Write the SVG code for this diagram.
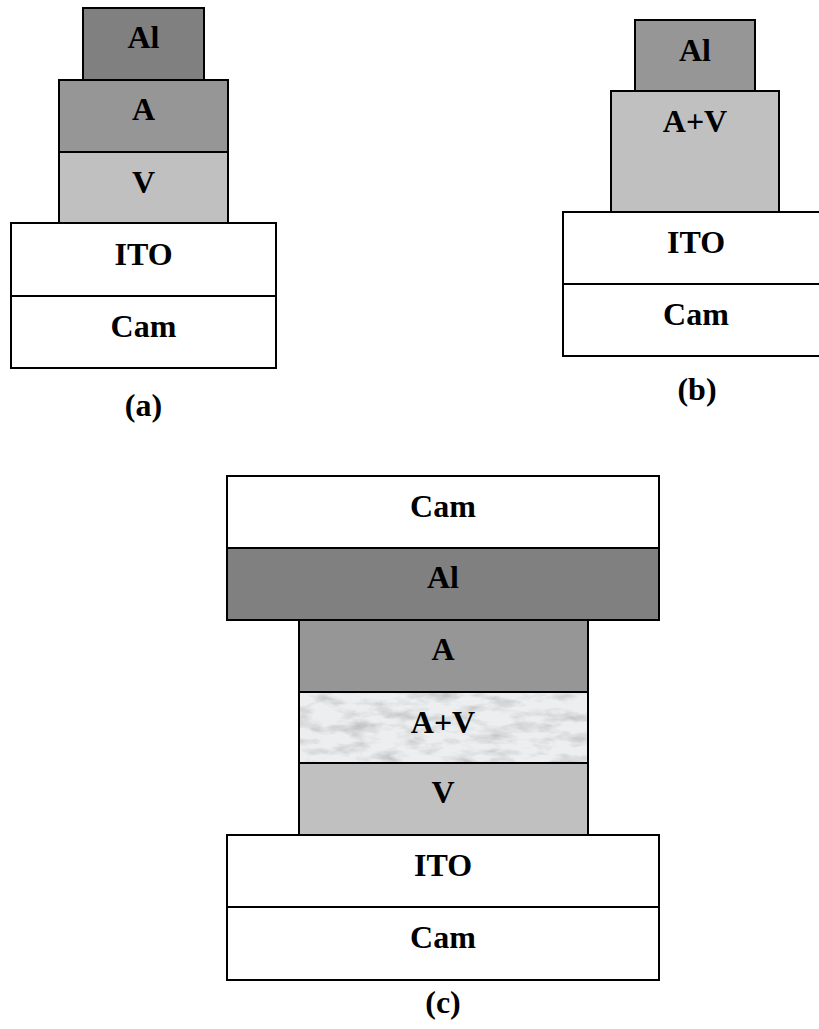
<svg xmlns="http://www.w3.org/2000/svg" width="819" height="1029" viewBox="0 0 819 1029">
  <style>
    .layer rect { stroke: #000; stroke-width: 2; }
    .t { font-family: "Liberation Serif", "Times New Roman", serif; font-weight: bold; font-size: 32px; text-anchor: middle; fill: #000; }
    .white { fill: #fff; }
    .dark { fill: #808080; }
    .mid { fill: #969696; }
    .light { fill: #c0c0c0; }
  </style>
  <defs>
    <!-- grey marble texture for the mixed A+V layer -->
    <filter id="marble" x="0" y="0" width="1" height="1" filterUnits="objectBoundingBox">
      <feTurbulence type="fractalNoise" baseFrequency="0.035 0.09" numOctaves="4" seed="7" result="noise"/>
      <feColorMatrix in="noise" type="matrix" values="0 0 0 0 0  0 0 0 0 0  0 0 0 0 0  -1.1 0 0 0 0.62" result="veins"/>
      <feFlood flood-color="#7d8080" result="vc"/>
      <feComposite in="vc" in2="veins" operator="in" result="vein"/>
      <feFlood flood-color="#eceef0" result="base"/>
      <feMerge>
        <feMergeNode in="base"/>
        <feMergeNode in="vein"/>
      </feMerge>
    </filter>
  </defs>

  <!-- stack (a) -->
  <g id="stack-a">
    <g id="a-al" class="layer"><rect class="dark" x="83" y="8" width="121" height="72"/><text class="t" x="143.5" y="48">Al</text></g>
    <g id="a-a" class="layer"><rect class="mid" x="59" y="80" width="169" height="72"/><text class="t" x="143.5" y="120">A</text></g>
    <g id="a-v" class="layer"><rect class="light" x="59" y="152" width="169" height="71"/><text class="t" x="143.5" y="193">V</text></g>
    <g id="a-ito" class="layer"><rect class="white" x="11" y="223" width="265" height="73"/><text class="t" x="143.5" y="265">ITO</text></g>
    <g id="a-cam" class="layer"><rect class="white" x="11" y="296" width="265" height="72"/><text class="t" x="143.5" y="337">Cam</text></g>
    <text id="label-a" class="t" x="143.5" y="416">(a)</text>
  </g>

  <!-- stack (b) -->
  <g id="stack-b">
    <g id="b-al" class="layer"><rect class="mid" x="635" y="20" width="120" height="71"/><text class="t" x="695" y="61">Al</text></g>
    <g id="b-av" class="layer"><rect class="light" x="611" y="91" width="168" height="121"/><text class="t" x="695" y="132">A+V</text></g>
    <g id="b-ito" class="layer"><rect class="white" x="563" y="212" width="270" height="72"/><text class="t" x="696" y="253">ITO</text></g>
    <g id="b-cam" class="layer"><rect class="white" x="563" y="284" width="270" height="72"/><text class="t" x="696" y="325">Cam</text></g>
    <text id="label-b" class="t" x="697" y="400">(b)</text>
  </g>

  <!-- stack (c) -->
  <g id="stack-c">
    <g id="c-cam-top" class="layer"><rect class="white" x="227" y="476" width="432" height="72"/><text class="t" x="443" y="517">Cam</text></g>
    <g id="c-al" class="layer"><rect class="dark" x="227" y="548" width="432" height="72"/><text class="t" x="443" y="588">Al</text></g>
    <g id="c-a" class="layer"><rect class="mid" x="299" y="620" width="289" height="72"/><text class="t" x="443" y="660">A</text></g>
    <g id="c-av" class="layer">
      <rect x="299" y="692" width="289" height="71" fill="#e8eaec" filter="url(#marble)" style="stroke:none"/>
      <rect x="299" y="692" width="289" height="71" fill="none"/>
      <text class="t" x="443" y="733">A+V</text>
    </g>
    <g id="c-v" class="layer"><rect class="light" x="299" y="763" width="289" height="72"/><text class="t" x="443" y="803">V</text></g>
    <g id="c-ito" class="layer"><rect class="white" x="227" y="835" width="432" height="72"/><text class="t" x="443" y="876">ITO</text></g>
    <g id="c-cam" class="layer"><rect class="white" x="227" y="907" width="432" height="73"/><text class="t" x="443" y="948">Cam</text></g>
    <text id="label-c" class="t" x="443" y="1013">(c)</text>
  </g>
</svg>
